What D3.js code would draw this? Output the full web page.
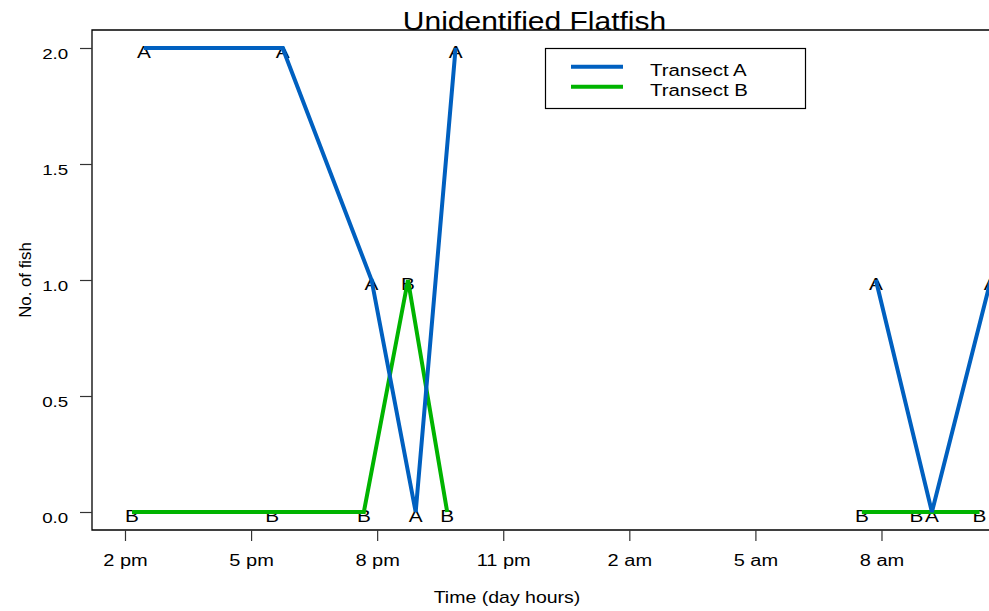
<!DOCTYPE html>
<html>
<head>
<meta charset="utf-8">
<script src="https://cdn.jsdelivr.net/npm/d3@7"></script>
<style>
    body { margin: 0; background: #fff; }
    svg { display: block; font-family: "Liberation Sans", Arial, sans-serif; }
</style>
</head>
<body>
<div id="chart"></div>
<script>
// times (clock time, day 1 afternoon -> day 2 morning)
const transectATimes = ['14:27', '17:45', '19:52', '20:55', '21:52', '07:52', '09:12', '10:36'];
const transectACounts = [2, 2, 1, 0, 2, 1, 0, 1];
const transectBTimes = ['14:10', '17:30', '19:41', '20:44', '21:40', '07:32', '08:50', '10:20'];
const transectBCounts = [0, 0, 0, 1, 0, 0, 0, 0];

const xTickHours = [14, 17, 20, 23, 26, 29, 32];
const yTicks = [0, 0.5, 1, 1.5, 2];
const seriesNames = ['Transect A', 'Transect B'];
const seriesLetters = ['A', 'B'];
const seriesColours = ['#0060c0', '#00b400'];

const width = 989, height = 611;
const plot = { left: 92, right: 1000, top: 30, bottom: 530 };

// hours since midnight of day 1
function toHours(t) {
    let [h, m] = t.split(':').map(Number);
    let v = h + m / 60;
    return h < 12 ? v + 24 : v;
}

function hourLabel(h) {
    let hh = h % 24;
    let suffix = hh < 12 ? 'am' : 'pm';
    let disp = hh % 12 === 0 ? 12 : hh % 12;
    return `${disp} ${suffix}`;
}

// split a series wherever there is a long gap in sampling
function segments(pts) {
    let out = [[]];
    pts.forEach((p, i) => {
        if (i > 0 && p.h - pts[i - 1].h > 4) out.push([]);
        out[out.length - 1].push(p);
    });
    return out;
}

const series = [
    transectATimes.map((t, i) => ({ h: toHours(t), v: transectACounts[i] })),
    transectBTimes.map((t, i) => ({ h: toHours(t), v: transectBCounts[i] }))
];

const x = d3.scaleLinear().domain([13.215, 34.82]).range([plot.left, plot.right]);
const y = d3.scaleLinear().domain([0, 2]).range([512, 48]);

const svg = d3.select('#chart').append('svg')
    .attr('width', width)
    .attr('height', height);

// stretched text, the reference has wide glyphs
function addText(g, tx, ty, str, size, anchor, sx, rot) {
    return g.append('text')
        .attr('transform', `translate(${tx},${ty})` + (rot ? ` rotate(${rot})` : '') + ` scale(${sx},1)`)
        .attr('text-anchor', anchor)
        .style('font-size', `${size}px`)
        .attr('fill', '#000')
        .text(str);
}

// frame: top, left, bottom
svg.append('path')
    .attr('d', `M${plot.right},${plot.top}H${plot.left}V${plot.bottom}H${plot.right}`)
    .attr('fill', 'none')
    .attr('stroke', '#000')
    .attr('stroke-width', 1.3);

// y axis
const yAxis = svg.append('g')
    .attr('transform', `translate(${plot.left},0)`)
    .call(d3.axisLeft(y).tickValues(yTicks).tickSize(12).tickFormat(d3.format('.1f')));
yAxis.select('.domain').remove();
yAxis.selectAll('line').attr('stroke', '#333').attr('stroke-width', 1.2);
yAxis.selectAll('text')
    .attr('x', -19).attr('dy', 10.5)
    .attr('transform', 'scale(1.25,1)')
    .attr('fill', '#000')
    .style('font-size', '15px')
    .style('font-family', '"Liberation Sans", Arial, sans-serif');

// x axis
const xAxis = svg.append('g')
    .attr('transform', `translate(0,${plot.bottom})`)
    .call(d3.axisBottom(x).tickValues(xTickHours).tickSize(11).tickFormat(hourLabel));
xAxis.select('.domain').remove();
xAxis.selectAll('line').attr('stroke', '#333').attr('stroke-width', 1.2);
xAxis.selectAll('text')
    .attr('y', 36).attr('dy', 0)
    .attr('transform', 'scale(1.25,1)')
    .attr('fill', '#000')
    .style('font-size', '16px')
    .style('font-family', '"Liberation Sans", Arial, sans-serif');
xAxis.selectAll('.tick text').attr('x', 0);

// titles
addText(svg, 534.5, 30, 'Unidentified Flatfish', 25, 'middle', 1.2);
addText(svg, 507, 603, 'Time (day hours)', 16, 'middle', 1.22);
addText(svg, 31, 280, 'No. of fish', 16, 'middle', 1.05, -90);

// point letters
const labels = svg.append('g');
series.forEach((pts, si) => {
    pts.forEach(p => {
        addText(labels, x(p.h), y(p.v) + 9.5, seriesLetters[si], 16, 'middle', 1.3);
    });
});

// lines
const line = d3.line().x(d => x(d.h)).y(d => y(d.v));
[1, 0].forEach(si => {
    svg.append('g')
        .selectAll('path')
        .data(segments(series[si]))
        .join('path')
        .attr('d', line)
        .attr('fill', 'none')
        .attr('stroke', seriesColours[si])
        .attr('stroke-width', 4)
        .attr('stroke-linejoin', 'miter');
});

// legend
const legend = svg.append('g');
legend.append('rect')
    .attr('x', 545.5).attr('y', 48.5)
    .attr('width', 260).attr('height', 60)
    .attr('fill', '#fff')
    .attr('stroke', '#000')
    .attr('stroke-width', 1.2);
seriesNames.forEach((name, i) => {
    let ly = 66.7 + i * 20;
    legend.append('line')
        .attr('x1', 571).attr('x2', 623)
        .attr('y1', ly).attr('y2', ly)
        .attr('stroke', seriesColours[i])
        .attr('stroke-width', 4);
    addText(legend, 650, ly + 9.5, name, 17, 'start', 1.2);
});
</script>
</body>
</html>
